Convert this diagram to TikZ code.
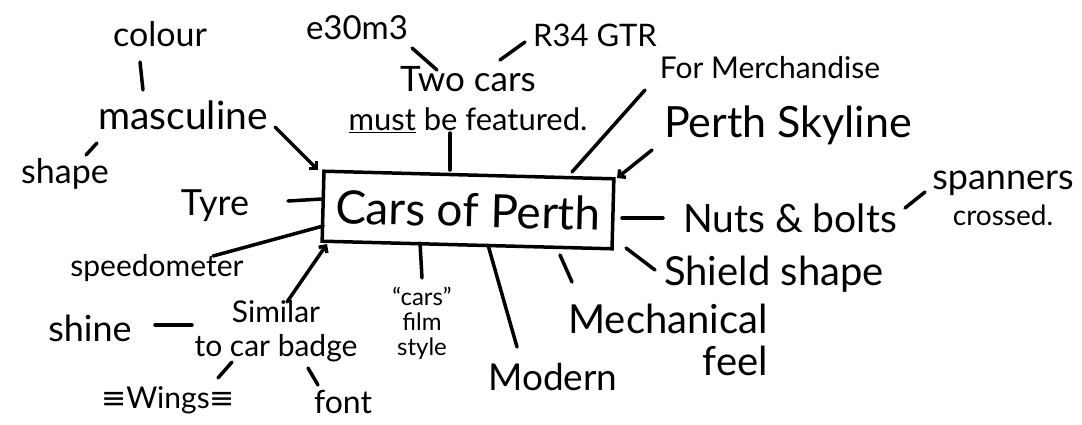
\documentclass[tikz,border=0pt]{standalone}
\usepackage{fontspec}
\setmainfont{Lato}
\newfontfamily\symfont{DejaVu Sans}
\usetikzlibrary{arrows.meta,positioning}

\tikzset{
  pen/.style={line width=3.5pt, line cap=round},
  arr/.style={pen, -{Straight Barb[length=5pt,width=10pt]}},
  lbl/.style={inner sep=0pt, align=center, font=\fontsize{#1}{#1}\selectfont},
}

\begin{document}
\begin{tikzpicture}[x=1pt, y=-1pt]
    \useasboundingbox (0,0) rectangle (1082,424);
    % centre
    \node[lbl=46, draw, pen, rotate=-1.5, minimum width=290pt, minimum height=70pt] (cop) at (468,210) {Cars of Perth};
    % left side
    \node[lbl=34] (colour) at (160,34) {colour};
    \node[lbl=39] (masc) at (183,115) {masculine};
    \node[lbl=34] (shape) at (65,174) {shape};
    \node[lbl=36] (tyre) at (215,206) {Tyre};
    \node[lbl=30] (speedo) at (157,268) {speedometer};
    \node[lbl=36] (shine) at (90,328) {shine};
    \node[lbl=30] (badge) at (276,331) {Similar\\[4pt]to car badge};
    \node[lbl=30] (wings) at (168,400) {{\symfont ≡}Wings{\symfont ≡}};
    \node[lbl=32] (fontn) at (343,402) {font};
    % bottom
    \node[lbl=24] (film) at (422,323) {“cars”\\[1pt]film\\[1pt]style};
    \node[lbl=37] (modern) at (553,377) {Modern};
    \node[lbl=40, align=right] (mech) at (668,340) {Mechanical\\[2pt]feel};
    % right side
    \node[lbl=40] (shield) at (774,274) {Shield shape};
    \node[lbl=39] (nuts) at (790,218) {Nuts \& bolts};
    \node[lbl=36] (spanners) at (1003,198) {spanners\\{\fontsize{28}{28}\selectfont crossed.}};
    \node[lbl=43] (skyline) at (788,125) {Perth Skyline};
    \node[lbl=30] (merch) at (770,68) {For Merchandise};
    % top
    \node[lbl=35] (two) at (468,100) {Two cars\\[4pt]{\fontsize{31}{31}\selectfont\underline{must} be featured.}};
    \node[lbl=33] (e30) at (357,28) {e30m3};
    \node[lbl=31] (r34) at (595,35) {R34 GTR};

    \draw[pen] ([shift={(-20,28)}]colour.center) -- ([shift={(-40,-25)}]masc.center);
    \draw[pen] ([shift={(21,-19)}]shape.center) -- ([shift={(-86,28)}]masc.center);
    \draw[arr] ([shift={(92,12)}]masc.center) -- ([shift={(-150,-40)}]cop.center);
    \draw[pen] ([shift={(73,-5)}]tyre.center) -- ([shift={(-146,-11)}]cop.center);
    \draw[pen] ([shift={(56,-12)}]speedo.center) -- ([shift={(-145,16)}]cop.center);
    \draw[arr] ([shift={(11,-29)}]badge.center) -- ([shift={(-141,34)}]cop.center);
    \draw[pen] ([shift={(65,-3)}]shine.center) -- ([shift={(-84,-6)}]badge.center);
    \draw[pen] ([shift={(50,-22)}]wings.center) -- ([shift={(-44,31)}]badge.center);
    \draw[pen] ([shift={(-25,-17)}]fontn.center) -- ([shift={(32,37)}]badge.center);
    \draw[pen] ([shift={(0,-45)}]film.center) -- ([shift={(-48,33)}]cop.center);
    \draw[pen] ([shift={(-36,-30)}]modern.center) -- ([shift={(20,35)}]cop.center);
    \draw[pen] ([shift={(-96,-58)}]mech.center) -- ([shift={(92,45)}]cop.center);
    \draw[pen] ([shift={(-119,-4)}]shield.center) -- ([shift={(158,38)}]cop.center);
    \draw[pen] ([shift={(-127,0)}]nuts.center) -- ([shift={(154,8)}]cop.center);
    \draw[pen] ([shift={(-78,-6)}]spanners.center) -- ([shift={(115,-10)}]nuts.center);
    \draw[arr] ([shift={(-136,25)}]skyline.center) -- ([shift={(149,-32)}]cop.center);
    \draw[pen] ([shift={(-125,22)}]merch.center) -- ([shift={(104,-38)}]cop.center);
    \draw[pen] ([shift={(-18,33)}]two.center) -- ([shift={(-18,-40)}]cop.center);
    \draw[pen] ([shift={(55,20)}]e30.center) -- ([shift={(-31,-30)}]two.center);
    \draw[pen] ([shift={(-70,7)}]r34.center) -- ([shift={(32,-40)}]two.center);
\end{tikzpicture}
\end{document}
